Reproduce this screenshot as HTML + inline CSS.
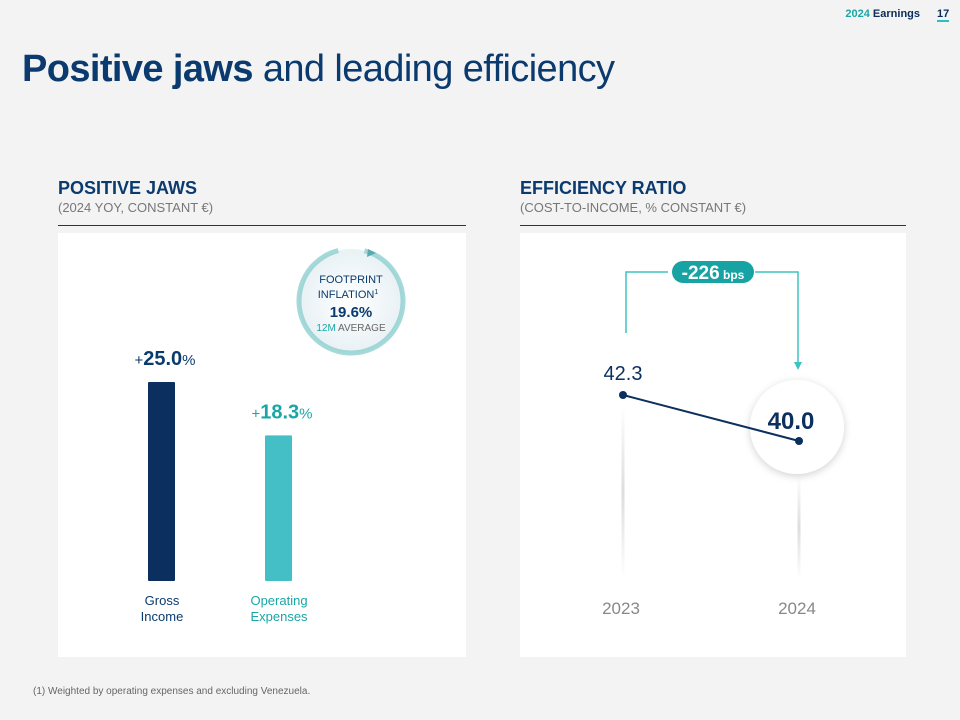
<!DOCTYPE html>
<html><head><meta charset="utf-8">
<style>
body{margin:0;width:960px;height:720px;background:#f3f3f3;font-family:"Liberation Sans",sans-serif;position:relative;overflow:hidden}
.a{position:absolute}
</style></head><body>
<div class="a" style="right:40px;top:8px;font-size:11px;font-weight:bold;color:#0b2b5b"><span style="color:#1ba6a6">2024</span> Earnings</div>
<div class="a" style="left:937px;top:8px;font-size:11px;font-weight:bold;color:#0b2b5b;border-bottom:2px solid #2ac0c0">17</div>
<div class="a" style="left:22px;top:48px;font-size:38px;color:#0b3a6e;letter-spacing:-0.6px"><b>Positive jaws</b> and leading efficiency</div>

<div class="a" style="left:58px;top:178px;font-size:18px;font-weight:bold;color:#0b3a6e">POSITIVE JAWS</div>
<div class="a" style="left:58px;top:200px;font-size:13px;color:#777">(2024 YOY, CONSTANT €)</div>
<div class="a" style="left:58px;top:225px;width:408px;height:1px;background:#0b3a6e"></div>
<div class="a" style="left:520px;top:178px;font-size:18px;font-weight:bold;color:#0b3a6e">EFFICIENCY RATIO</div>
<div class="a" style="left:520px;top:200px;font-size:13px;color:#777">(COST-TO-INCOME, % CONSTANT €)</div>
<div class="a" style="left:520px;top:225px;width:386px;height:1px;background:#0b3a6e"></div>

<svg class="a" style="left:0;top:0" width="960" height="720" id="s">
<defs>
<linearGradient id="fade" x1="0" y1="0" x2="0" y2="1"><stop offset="0" stop-color="#fff"/><stop offset="0.5" stop-color="#ddd"/><stop offset="1" stop-color="#fff"/></linearGradient>
<radialGradient id="cg"><stop offset="0" stop-color="#fff"/><stop offset="1" stop-color="#e8f1f5"/></radialGradient>
<filter id="sh"><feDropShadow dx="0" dy="2" stdDeviation="4" flood-opacity="0.18"/></filter>
</defs>
<rect x="58" y="233" width="408" height="424" fill="#fff"/>
<rect x="520" y="233" width="386" height="424" fill="#fff"/>
<g>
<circle cx="351" cy="301" r="52" fill="url(#cg)"/>
<circle cx="351" cy="301" r="52" fill="none" stroke="#8fcfcf" stroke-width="5" stroke-dasharray="300 30" transform="rotate(-75 351 301)" opacity="0.8"/>
<path d="M368 249 l8 4 -9 4z" fill="#5aa9b0"/>
<text x="351" y="283" text-anchor="middle" font-size="11" fill="#0b3a6e">FOOTPRINT</text>
<text x="348" y="298" text-anchor="middle" font-size="11" fill="#0b3a6e">INFLATION<tspan font-size="7" dy="-4">1</tspan></text>
<text x="351" y="317" text-anchor="middle" font-size="15" font-weight="bold" fill="#0b3a6e">19.6%</text>
<text x="351" y="331" text-anchor="middle" font-size="10" fill="#666"><tspan fill="#1ba6a6">12M</tspan> AVERAGE</text>
</g>
<g id="bars"></g>
<g id="line"></g>
<g>
<polyline points="626,333 626,272 668,272" fill="none" stroke="#3cc4c4" stroke-width="1.5"/>
<polyline points="755,272 798,272 798,365" fill="none" stroke="#3cc4c4" stroke-width="1.5"/>
<path d="M794,362 l4,8 4,-8z" fill="#3cc4c4"/>
<rect x="672" y="261" width="82" height="22" rx="11" fill="#17a3a3"/>
<text x="713" y="279" text-anchor="middle" fill="#fff" font-weight="bold" font-size="19">-226<tspan font-size="12"> bps</tspan></text>
</g>
<text x="33" y="694" font-size="10" fill="#666">(1) Weighted by operating expenses and excluding Venezuela.</text>
</svg>
<script>
const barCats=["Gross|Income","Operating|Expenses"];
const barVals=[25.0,18.3];
const lineCats=["2023","2024"];
const lineVals=[42.3,40.0];
const NS="http://www.w3.org/2000/svg";
function mk(p,t,a){const e=document.createElementNS(NS,t);for(const k in a)e.setAttribute(k,a[k]);p.appendChild(e);return e;}
const bx=i=>161+i*117, by=v=>581-v*7.96;
const bg=document.getElementById('bars');
const colors=["#0b2f5e","#45bfc6"],tc=["#0b3a6e","#1ba6a6"];
barVals.forEach((v,i)=>{
 const r=mk(bg,'rect',{x:bx(i)-13,y:by(v),width:27,height:581-by(v),fill:colors[i],rx:1});
 
 
 const t=mk(bg,'text',{x:bx(i)+4,y:by(v)-17,'text-anchor':'middle',fill:tc[i],'font-size':20,'font-weight':'bold'});
 t.innerHTML='<tspan font-size="15" font-weight="normal">+</tspan>'+v.toFixed(1)+'<tspan font-size="15" font-weight="normal">%</tspan>';
 
 
 barCats[i].split('|').forEach((s,j)=>{const l=mk(bg,'text',{x:bx(i)+1,y:605+j*16,'text-anchor':'middle',fill:tc[i],'font-size':13});l.textContent=s;
 
 });
});
const lx=i=>623+i*176, ly=v=>395+(42.3-v)*20;
const lg=document.getElementById('line');
lineVals.forEach((v,i)=>{const g=mk(lg,'rect',{x:lx(i)-1.5,y:ly(v)+(i?35:10),width:3,height:580-ly(v)-(i?35:10),fill:'url(#fade)'});
 
 });
const c=mk(lg,'circle',{cx:lx(1)-2,cy:ly(lineVals[1])-14,r:47,fill:'#fff',filter:'url(#sh)'});


const pl=mk(lg,'polyline',{points:lineVals.map((v,i)=>lx(i)+','+ly(v)).join(' '),fill:'none',stroke:'#0b2f5e','stroke-width':2});


lineVals.forEach((v,i)=>{
 const p=mk(lg,'circle',{cx:lx(i),cy:ly(v),r:4,fill:'#0b2f5e'});
 
 
 const t=mk(lg,'text',{x:i?lx(i)-8:lx(i),y:i?ly(v)-12:ly(v)-15,'text-anchor':'middle',fill:'#0b2f5e','font-size':i?24:20,'font-weight':i?'bold':'normal'});
 t.textContent=v.toFixed(1);
 
 
 const x=mk(lg,'text',{x:lx(i)-2,y:614,'text-anchor':'middle',fill:'#888','font-size':17});
 x.textContent=lineCats[i];
 
 
});
</script>
</body></html>
